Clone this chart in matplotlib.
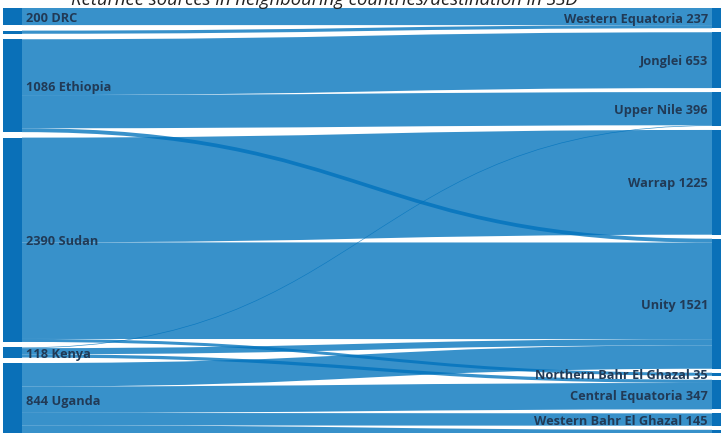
import matplotlib.pyplot as plt
from matplotlib.path import Path
from matplotlib.patches import PathPatch, Rectangle

# source countries (left) and destination states in SSD (right), top to bottom
sources = ['DRC', '', 'Ethiopia', 'Sudan', 'Kenya', 'Uganda']
source_values = [200, 37, 1086, 2390, 118, 844]
targets = ['Western Equatoria', 'Jonglei', 'Upper Nile', 'Warrap', 'Unity',
           'Northern Bahr El Ghazal', 'Central Equatoria', 'Western Bahr El Ghazal', '']
target_values = [237, 653, 396, 1225, 1521, 35, 347, 145, 116]

# flows (source, target, returnees)
flows = [
    ('DRC', 'Western Equatoria', 200),
    ('', 'Western Equatoria', 37),
    ('Ethiopia', 'Jonglei', 653),
    ('Ethiopia', 'Upper Nile', 388),
    ('Ethiopia', 'Unity', 45),
    ('Sudan', 'Warrap', 1225),
    ('Sudan', 'Unity', 1130),
    ('Sudan', 'Northern Bahr El Ghazal', 35),
    ('Kenya', 'Upper Nile', 8),
    ('Kenya', 'Unity', 72),
    ('Kenya', 'Central Equatoria', 38),
    ('Uganda', 'Unity', 274),
    ('Uganda', 'Central Equatoria', 309),
    ('Uganda', 'Western Bahr El Ghazal', 145),
    ('Uganda', '', 116),
]

title = 'Returnee sources in neighbouring countries/destination in SSD'

W, H = 721, 433
TOP = 8.0          # px
KY = 0.0855        # px per returnee
GAP_L, GAP_R = 5.5, 4.0
X_L, X_R, NODE_W = 3, 712, 19

link_color = '#0072bc'
node_color = '#0a70b8'
text_color = '#213a56'


def column(values, gap):
    tops = []
    y = TOP
    for v in values:
        tops.append(y)
        y += v * KY + gap
    return tops


src_top = column(source_values, GAP_L)
tgt_top = column(target_values, GAP_R)

fig = plt.figure(figsize=(W / 100, H / 100), dpi=100)
ax = fig.add_axes([0, 0, 1, 1])
ax.set_xlim(0, W)
ax.set_ylim(H, 0)
ax.axis('off')

# stack links at each node, ordered by the position of the other end
s_idx = {n: i for i, n in enumerate(sources)}
t_idx = {n: i for i, n in enumerate(targets)}
s_off = list(src_top)
t_off = list(tgt_top)
y_src = {}
y_tgt = {}
for f in sorted(flows, key=lambda f: (s_idx[f[0]], t_idx[f[1]])):
    i = s_idx[f[0]]
    y_src[f] = s_off[i]
    s_off[i] += f[2] * KY
for f in sorted(flows, key=lambda f: (t_idx[f[1]], s_idx[f[0]])):
    j = t_idx[f[1]]
    y_tgt[f] = t_off[j]
    t_off[j] += f[2] * KY

x0, x1 = X_L + NODE_W, X_R
xm = (x0 + x1) / 2
for f in flows:
    h = f[2] * KY
    a0, a1 = y_src[f], y_tgt[f]
    b0, b1 = a0 + h, a1 + h
    verts = [(x0, a0), (xm, a0), (xm, a1), (x1, a1),
             (x1, b1), (xm, b1), (xm, b0), (x0, b0), (x0, a0)]
    codes = [Path.MOVETO, Path.CURVE4, Path.CURVE4, Path.CURVE4,
             Path.LINETO, Path.CURVE4, Path.CURVE4, Path.CURVE4, Path.CLOSEPOLY]
    ax.add_patch(PathPatch(Path(verts, codes), facecolor=link_color,
                           edgecolor='none', alpha=0.78))

lab = dict(fontsize=9.2, fontweight='bold', color=text_color, family='Open Sans')
for name, v, y in zip(sources, source_values, src_top):
    ax.add_patch(Rectangle((X_L, y), NODE_W, v * KY, color=node_color, lw=0))
    if name:
        ax.text(X_L + NODE_W + 4, y + v * KY / 2 + 2, f'{v} {name}',
                ha='left', va='center', **lab)
for name, v, y in zip(targets, target_values, tgt_top):
    ax.add_patch(Rectangle((X_R, y), NODE_W, v * KY, color=node_color, lw=0))
    if name:
        ax.text(X_R - 4, y + v * KY / 2 + 1.5, f'{name} {v}',
                ha='right', va='center', **lab)

# title sits above the visible area, only its lower part shows
ax.text(324, 5, title, ha='center', va='baseline', fontsize=13.3,
        style='italic', color='#222222', family='Open Sans')

fig.savefig('out.png', dpi=100)
